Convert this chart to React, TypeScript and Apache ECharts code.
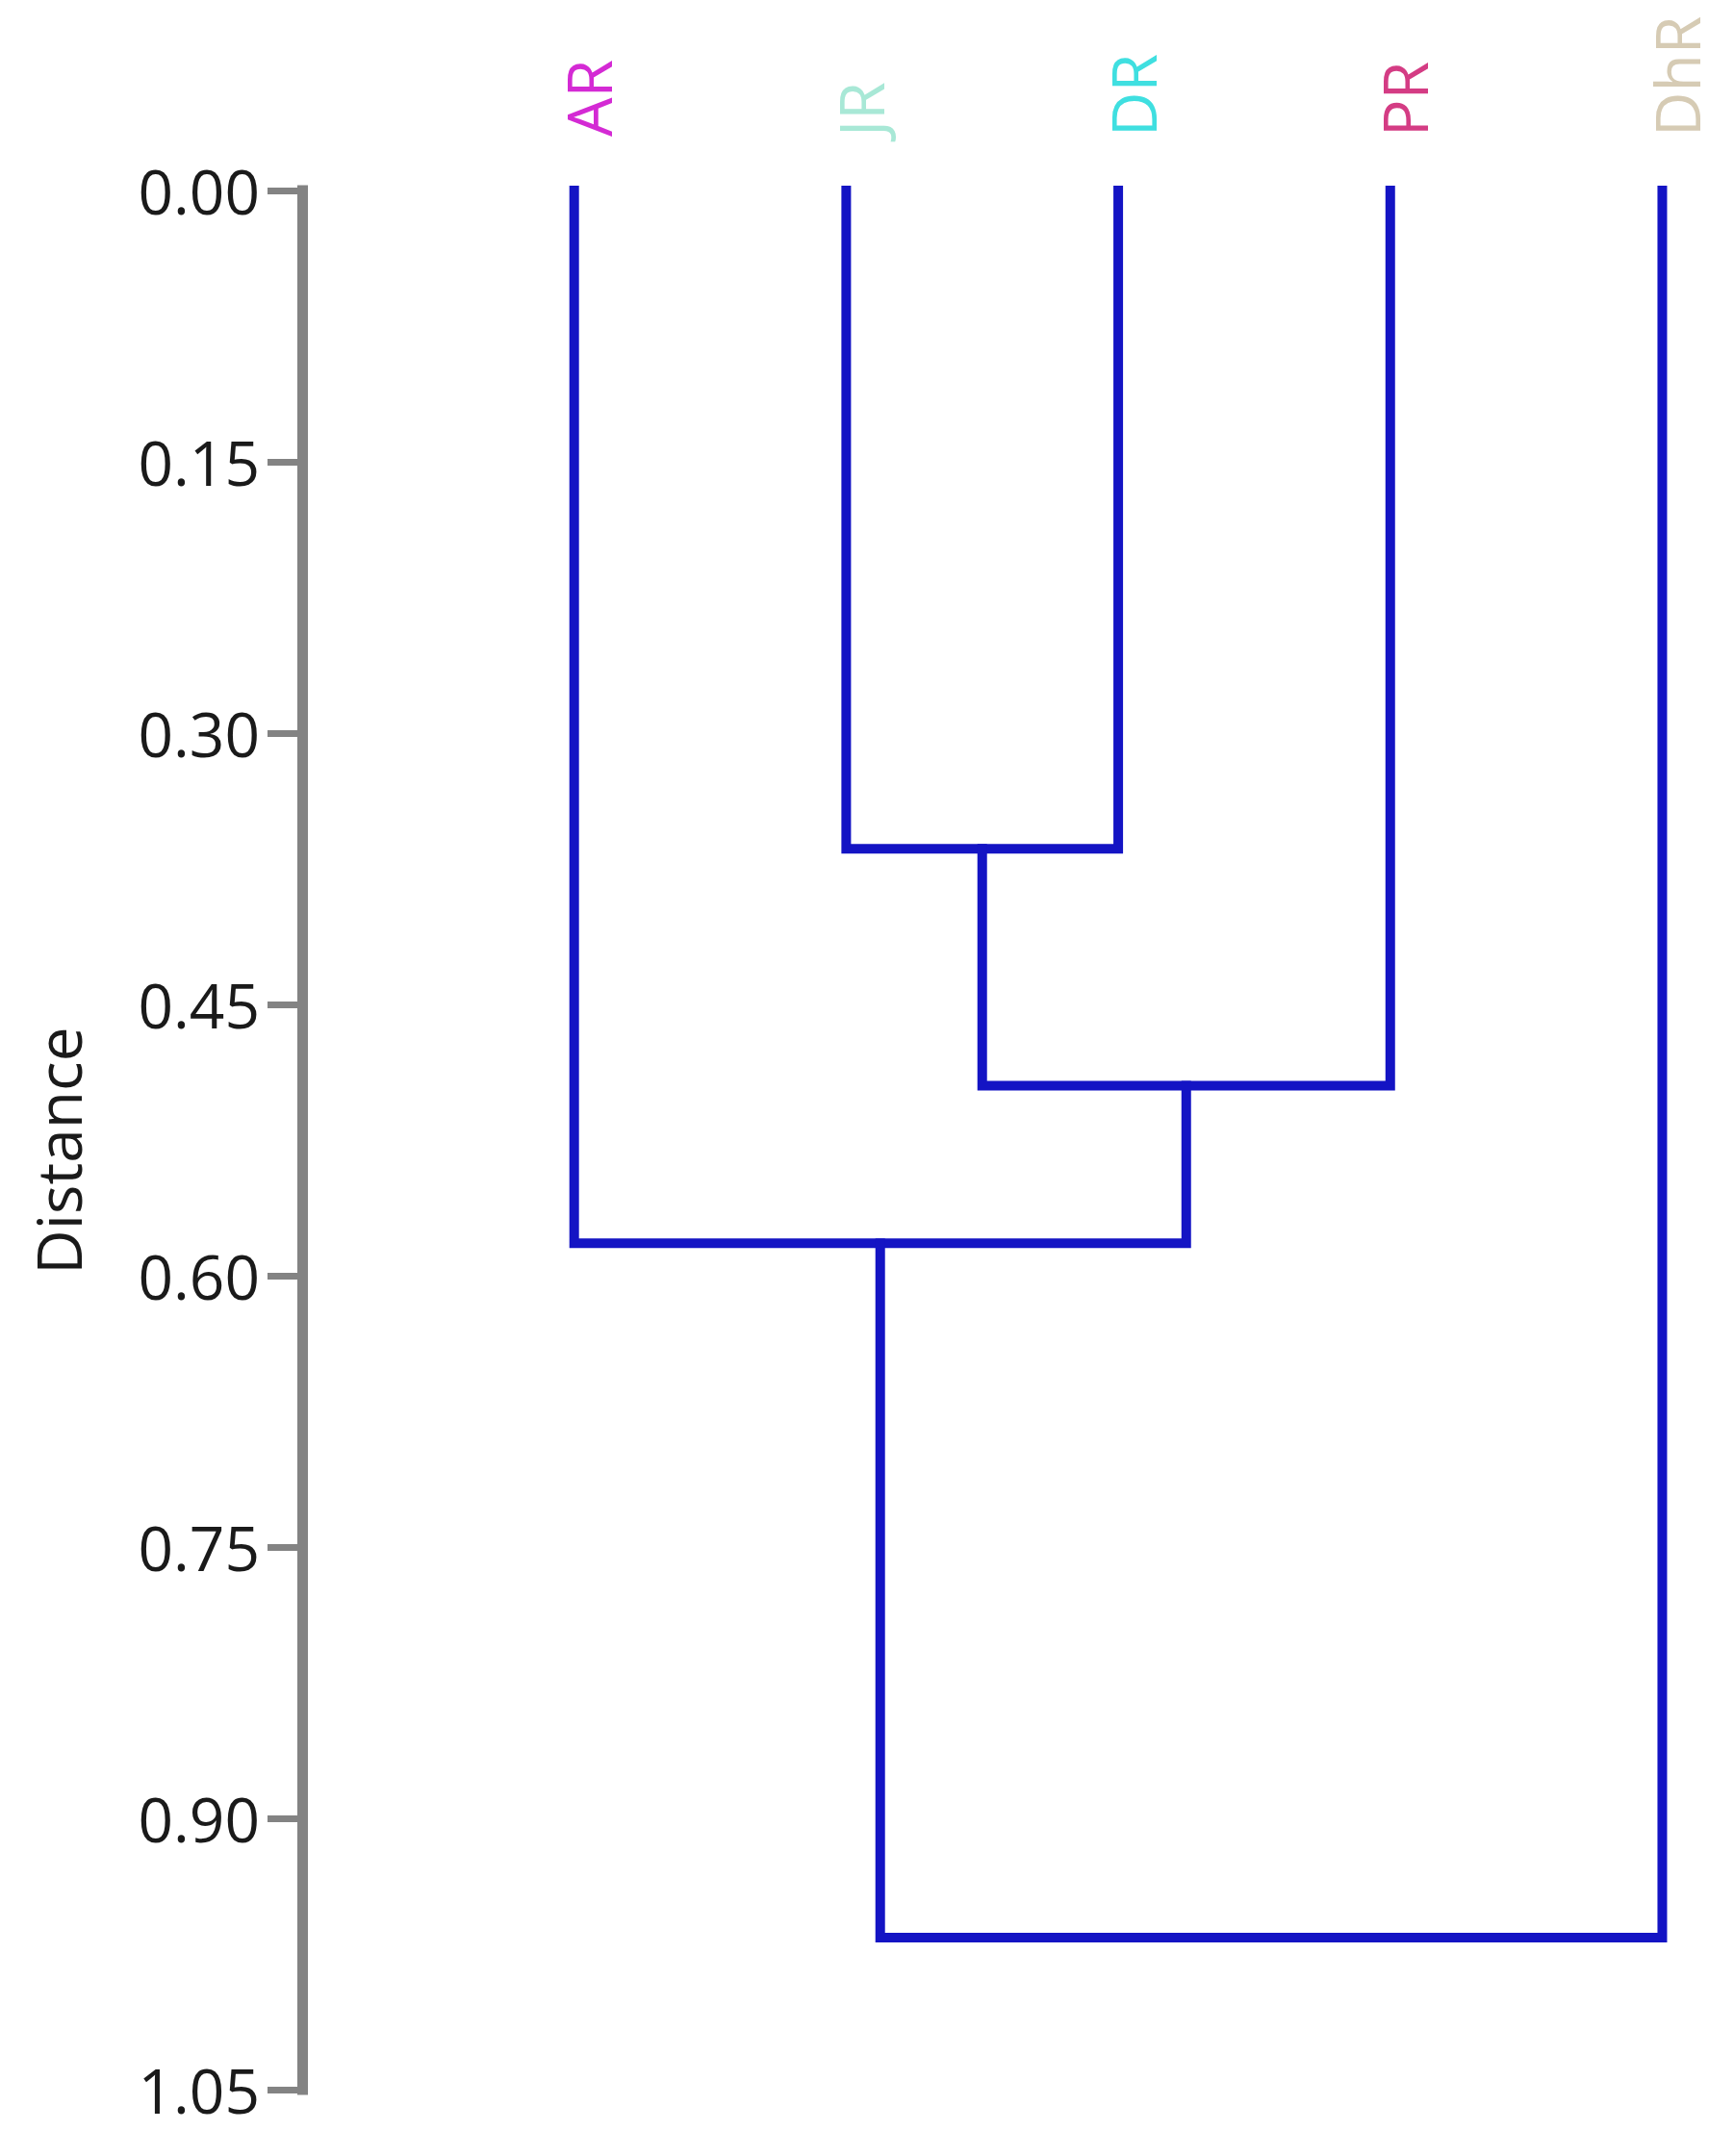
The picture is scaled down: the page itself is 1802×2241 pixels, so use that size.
import React, { useEffect, useRef } from "react";
import * as echarts from "echarts";

// Leaves (left to right) and their label colours
const leafNames = ["AR", "JR", "DR", "PR", "DhR"];
const leafColors = ["#d42ad4", "#a8e8d6", "#3fdfe0", "#d43c84", "#d6cbb4"];

// Agglomeration steps (node indices: 0-4 leaves, 5+ merged clusters)
const mergeA = [1, 5, 0, 7];
const mergeB = [2, 3, 6, 4];
const mergeHeights = [0.364, 0.495, 0.582, 0.966];

// Distance axis
const yMin = 0;
const yMax = 1.05;
const yStep = 0.15;
const yTitle = "Distance";

export default function App() {
  const ref = useRef<HTMLDivElement>(null);

  useEffect(() => {
    if (!ref.current) return;
    const chart = echarts.init(ref.current, null, { renderer: "svg" });

    const nodeX: number[] = leafNames.map((_, i) => i + 1);
    const nodeH: number[] = leafNames.map(() => 0);
    const segData: number[][] = [];
    mergeHeights.forEach((h, k) => {
      const a = mergeA[k];
      const b = mergeB[k];
      segData.push([nodeX[a], nodeH[a], nodeX[b], nodeH[b], h]);
      nodeX.push((nodeX[a] + nodeX[b]) / 2);
      nodeH.push(h);
    });
    const leafData = leafNames.map((_, i) => [nodeX[i], 0, i]);

    const font = "'Open Sans', 'Noto Sans', sans-serif";
    const lineColor = "#1414c4";

    chart.setOption({
      animation: false,
      backgroundColor: "#ffffff",
      grid: { left: 314, right: 18, top: 198, bottom: 69, containLabel: false },
      xAxis: {
        type: "value",
        min: 0,
        max: 5.2,
        show: false,
      },
      yAxis: {
        type: "value",
        inverse: true,
        min: yMin,
        max: yMax,
        interval: yStep,
        name: yTitle,
        nameLocation: "middle",
        nameRotate: 90,
        nameGap: 222,
        nameTextStyle: {
          fontSize: 64,
          fontFamily: font,
          color: "#1a1a1a",
          padding: [0, 22, 0, 0],
        },
        axisLine: {
          show: true,
          lineStyle: { color: "#838383", width: 11, cap: "square" },
        },
        axisTick: {
          show: true,
          length: 36,
          lineStyle: { color: "#838383", width: 7 },
        },
        axisLabel: {
          margin: 44,
          fontSize: 64,
          fontFamily: font,
          color: "#1a1a1a",
          formatter: (v: number) => v.toFixed(2),
        },
        splitLine: { show: false },
      },
      series: [
        {
          type: "custom",
          clip: false,
          dimensions: ["x1", "h1", "x2", "h2", "h"],
          encode: { x: [0, 2], y: [1, 3, 4] },
          data: segData,
          renderItem: (params: any, api: any) => {
            const p1 = api.coord([api.value(0), api.value(1)]);
            const p2 = api.coord([api.value(0), api.value(4)]);
            const p3 = api.coord([api.value(2), api.value(4)]);
            const p4 = api.coord([api.value(2), api.value(3)]);
            return {
              type: "polyline",
              shape: { points: [p1, p2, p3, p4] },
              style: {
                stroke: lineColor,
                lineWidth: 10,
                fill: "none",
                lineJoin: "miter",
                lineCap: "square",
              },
            };
          },
        },
        {
          type: "custom",
          clip: false,
          dimensions: ["x", "y", "i"],
          encode: { x: 0, y: 1 },
          data: leafData,
          renderItem: (params: any, api: any) => {
            const p = api.coord([api.value(0), api.value(1)]);
            const idx = api.value(2);
            return {
              type: "text",
              x: p[0] + 15,
              y: p[1] - 56,
              rotation: Math.PI / 2,
              style: {
                text: leafNames[idx],
                fill: leafColors[idx],
                fontSize: 64,
                fontFamily: font,
                align: "left",
                verticalAlign: "middle",
              },
            };
          },
        },
      ],
    });

    return () => chart.dispose();
  }, []);

  return (
    <div
      ref={ref}
      style={{ position: "absolute", left: 0, top: 0, width: 1802, height: 2241 }}
    />
  );
}
